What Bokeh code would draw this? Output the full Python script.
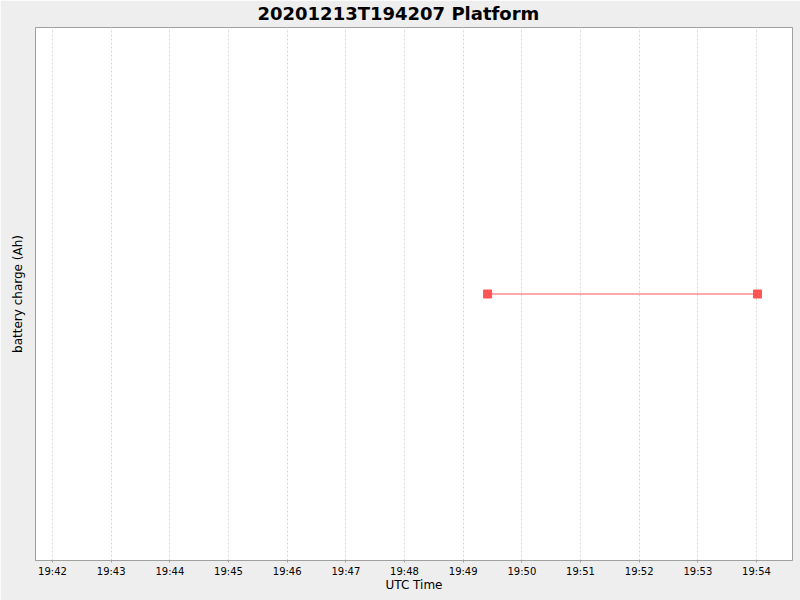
import pandas as pd
from bokeh.plotting import figure
from bokeh.models import FixedTicker, DatetimeTickFormatter, Range1d
from bokeh.embed import file_html
from bokeh.resources import INLINE

# data
day = "2020-12-13"
times = ["19:49:25", "19:54:01"]
charge = [10.0, 10.0]
tick_labels = ["19:42", "19:43", "19:44", "19:45", "19:46", "19:47", "19:48",
               "19:49", "19:50", "19:51", "19:52", "19:53", "19:54"]
x_start, x_end = "19:41:42.6", "19:54:36.8"

xs = pd.to_datetime([f"{day} {t}" for t in times])
ticks = [pd.Timestamp(f"{day} {t}").value / 1e6 for t in tick_labels]

p = figure(width=800, height=600, x_axis_type="datetime",
           output_backend="svg", toolbar_location=None,
           x_range=Range1d(pd.Timestamp(f"{day} {x_start}"), pd.Timestamp(f"{day} {x_end}")),
           y_range=Range1d(charge[0] - 1, charge[0] + 1),
           min_border_left=35, min_border_right=8, min_border_top=26, min_border_bottom=40)

p.title.text = "20201213T194207 Platform"
p.title.text_font = "DejaVu Sans"
p.title.text_font_size = "18px"
p.title.text_font_style = "bold"
p.title.align = "left"
p.title.offset = 222
p.title.standoff = 4
p.title.vertical_align = "top"
p.title.text_color = "#000000"

p.background_fill_color = "white"
p.border_fill_color = "#eeeeee"
p.outline_line_color = "#a0a0a0"
p.outline_line_width = 1

p.line(xs, charge, line_color="#ff5555", line_width=1)
p.scatter(xs, charge, marker="square", size=8, fill_color="#ff5555", line_color="#ff5555")

xa = p.xaxis[0]
xa.ticker = FixedTicker(ticks=ticks, minor_ticks=[])
xa.formatter = DatetimeTickFormatter(minutes="%H:%M", hours="%H:%M", minsec="%H:%M", seconds="%H:%M")
xa.axis_label = "UTC Time"
xa.axis_label_text_font = "DejaVu Sans"
xa.axis_label_text_font_size = "12px"
xa.axis_label_text_font_style = "normal"
xa.axis_label_text_color = "#000000"
xa.axis_label_standoff = -2
xa.major_label_text_font = "DejaVu Sans"
xa.major_label_text_font_size = "10px"
xa.major_label_text_color = "#000000"
xa.major_label_standoff = 3
xa.axis_line_color = "#a0a0a0"
xa.major_tick_line_color = "#a0a0a0"
xa.major_tick_out = 2
xa.major_tick_in = 0
xa.minor_tick_line_color = None

ya = p.yaxis[0]
ya.ticker = FixedTicker(ticks=[])
ya.axis_label = "battery charge (Ah)"
ya.axis_label_text_font = "DejaVu Sans"
ya.axis_label_text_font_size = "12px"
ya.axis_label_text_font_style = "normal"
ya.axis_label_text_color = "#000000"
ya.axis_label_standoff = 11
ya.axis_line_color = "#a0a0a0"
ya.major_tick_line_color = None
ya.minor_tick_line_color = None
ya.major_label_text_font_size = "0px"

p.xgrid.ticker = FixedTicker(ticks=ticks)
p.xgrid.grid_line_color = "#d8d8d8"
p.xgrid.grid_line_dash = "2 2"
p.ygrid.grid_line_color = None

open("out.html", "w").write(file_html(p, INLINE))
